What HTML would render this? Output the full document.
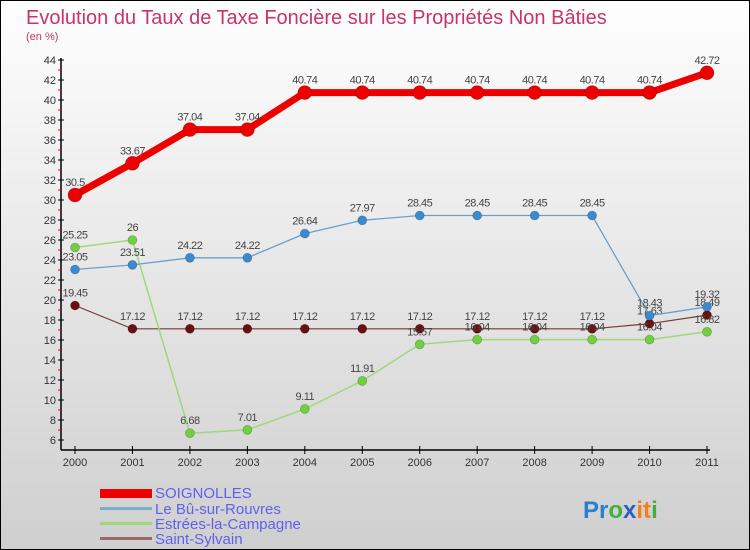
<!DOCTYPE html>
<html><head><meta charset="utf-8"><style>
body{margin:0}
#c{width:750px;height:550px;position:relative;box-sizing:border-box;border:1px solid #000;background:linear-gradient(#fefefe,#cfcfcf);font-family:"Liberation Sans",sans-serif;overflow:hidden}
</style></head><body>
<div id="c">
<svg id="s" width="750" height="550" style="position:absolute;left:-1px;top:-1px">
<text x="26" y="24" font-size="20" fill="#c8336e">Evolution du Taux de Taxe Foncière sur les Propriétés Non Bâties</text>
<text x="26" y="40" font-size="11" fill="#c8336e">(en %)</text>
<g id="ax"></g><g id="ser"></g>
<g>
<rect x="100" y="489" width="52" height="9" fill="#e00"/>
<text x="155" y="498" font-size="15" fill="#6060ee">SOIGNOLLES</text>
<rect x="100" y="507" width="52" height="3" fill="#7aaccc"/>
<text x="155" y="514" font-size="15" fill="#6060ee">Le Bû-sur-Rouvres</text>
<rect x="100" y="522" width="52" height="3" fill="#9ed87a"/>
<text x="155" y="529" font-size="15" fill="#6060ee">Estrées-la-Campagne</text>
<rect x="100" y="537" width="52" height="3" fill="#9a6a6a"/>
<text x="155" y="544" font-size="15" fill="#6060ee">Saint-Sylvain</text>
</g>
<text x="583" y="518" font-size="24" font-weight="bold"><tspan fill="#2a80d0">Pr</tspan><tspan fill="#40b040">o</tspan><tspan fill="#2a60c0">x</tspan><tspan fill="#f08020">it</tspan><tspan fill="#40b040">i</tspan></text>
</svg>
</div>
<script>
const years=[2000,2001,2002,2003,2004,2005,2006,2007,2008,2009,2010,2011];
const yTicks=[6,8,10,12,14,16,18,20,22,24,26,28,30,32,34,36,38,40,42,44];
const soignolles=[30.5,33.67,37.04,37.04,40.74,40.74,40.74,40.74,40.74,40.74,40.74,42.72];
const leBu=[23.05,23.51,24.22,24.22,26.64,27.97,28.45,28.45,28.45,28.45,18.43,19.32];
const estrees=[25.25,26,6.68,7.01,9.11,11.91,15.57,16.04,16.04,16.04,16.04,16.82];
const saintSylvain=[19.45,17.12,17.12,17.12,17.12,17.12,17.12,17.12,17.12,17.12,17.63,18.49];
const NS="http://www.w3.org/2000/svg";
const X=i=>75+i*(707-75)/(years.length-1);
const Y=v=>440-(v-6)*10;
function mk(t,a,p){const e=document.createElementNS(NS,t);for(const k in a)e.setAttribute(k,a[k]);p.appendChild(e);return e;}
const ax=document.getElementById('ax');
mk('line',{x1:61,y1:58,x2:61,y2:450,stroke:'#000','stroke-width':1.5},ax);
mk('line',{x1:61,y1:450,x2:710,y2:450,stroke:'#000','stroke-width':1.5},ax);
yTicks.forEach(v=>{
 mk('line',{x1:58,y1:Y(v),x2:64,y2:Y(v),stroke:'#000'},ax);
 if(v<44)mk('line',{x1:58,y1:Y(v+1),x2:61,y2:Y(v+1),stroke:'#e00'},ax);
 const t=mk('text',{x:56,y:Y(v)+4,'font-size':11,'text-anchor':'end',fill:'#333'},ax);
 
 
 t.textContent=v;
});
years.forEach((y,i)=>{
 mk('line',{x1:X(i),y1:446,x2:X(i),y2:454,stroke:'#000'},ax);
 const t=mk('text',{x:X(i),y:466,'font-size':11,'text-anchor':'middle',fill:'#333'},ax);
 
 
 t.textContent=y;
});
const ser=document.getElementById('ser');
function draw(vals,color,w,r,fill,name){
 const g=mk('g',{},ser);
 
 
 mk('polyline',{points:vals.map((v,i)=>X(i)+','+Y(v)).join(' '),fill:'none',stroke:color,'stroke-width':w},g);
 vals.forEach((v,i)=>{
  const c=mk('circle',{cx:X(i),cy:Y(v),r:r,fill:fill,stroke:'rgba(0,0,0,0.3)','stroke-width':0.6},g);
  
  
  const t=mk('text',{x:X(i),y:Y(v)-9,'font-size':11,'text-anchor':'middle',fill:'#444','letter-spacing':'-0.5'},g);
  
  
  t.textContent=v;
 });
}
draw(saintSylvain,'#7a3a3a',1.2,4.5,'#6a1010','series-saint-sylvain');
draw(estrees,'#9ed87a',1.5,4.5,'#70d040','series-estrees');
draw(leBu,'#6aa0cc',1.3,4.5,'#3a8ad0','series-le-bu');
draw(soignolles,'#e00',7,7,'#e00','series-soignolles');
</script>
</body></html>
